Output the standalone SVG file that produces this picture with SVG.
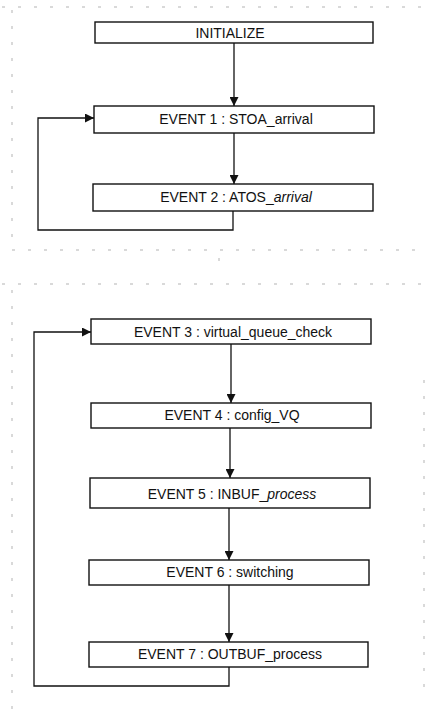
<svg xmlns="http://www.w3.org/2000/svg" width="426" height="718" viewBox="0 0 426 718">
<style>
.box{fill:#fff;stroke:#111;stroke-width:1.4}
.lbl{font-family:"Liberation Sans",Arial,sans-serif;font-size:14px;fill:#111;text-anchor:middle}
.edge{fill:none;stroke:#111;stroke-width:1.3}
.frame{fill:none;stroke:#aaa;stroke-width:0.9;stroke-dasharray:3 13}
</style>
<defs>
<marker id="ah" viewBox="0 0 10 10" refX="10" refY="5" markerWidth="9" markerHeight="9" orient="auto" markerUnits="userSpaceOnUse">
<path d="M0,0 L10,5 L0,10 Z" fill="#111"/>
</marker>
</defs>
<g id="frames">
<path class="frame" d="M2,7 H426"/>
<path class="frame" d="M12,10 V245"/>
<path class="frame" d="M12,250 H426"/>
<path class="frame" d="M219,258 V274"/>
<path class="frame" d="M2,284 H426"/>
<path class="frame" d="M12,290 V712"/>
<path class="frame" d="M424,380 V700"/>
</g>
<g id="connectors">
<path class="edge" d="M234,43 V106" marker-end="url(#ah)"/>
<path class="edge" d="M234,133 V184" marker-end="url(#ah)"/>
<path class="edge" d="M233,211 V230 H38 V118 H94" marker-end="url(#ah)"/>
<path class="edge" d="M231,344 V403" marker-end="url(#ah)"/>
<path class="edge" d="M230,428 V478" marker-end="url(#ah)"/>
<path class="edge" d="M229,508 V560" marker-end="url(#ah)"/>
<path class="edge" d="M229,585 V642" marker-end="url(#ah)"/>
<path class="edge" d="M229,667 V686 H34 V332 H91" marker-end="url(#ah)"/>
</g>
<g id="initialize">
<rect class="box" x="95" y="22" width="278" height="21"/>
<text class="lbl" x="230" y="38">INITIALIZE</text>
</g>
<g id="event1">
<rect class="box" x="94" y="106" width="280" height="27"/>
<text class="lbl" x="236" y="124">EVENT 1 : STOA_arrival</text>
</g>
<g id="event2">
<rect class="box" x="93" y="184" width="280" height="27"/>
<text class="lbl" x="236" y="202">EVENT 2 : ATOS_<tspan font-style="italic">arrival</tspan></text>
</g>
<g id="event3">
<rect class="box" x="91" y="319" width="280" height="25"/>
<text class="lbl" x="233" y="337">EVENT 3 : virtual_queue_check</text>
</g>
<g id="event4">
<rect class="box" x="91" y="403" width="280" height="25"/>
<text class="lbl" x="232" y="420">EVENT 4 : config_VQ</text>
</g>
<g id="event5">
<rect class="box" x="90" y="478" width="280" height="30"/>
<text class="lbl" x="232" y="499">EVENT 5 : INBUF_<tspan font-style="italic">process</tspan></text>
</g>
<g id="event6">
<rect class="box" x="89" y="560" width="280" height="25"/>
<text class="lbl" x="230" y="577">EVENT 6 : switching</text>
</g>
<g id="event7">
<rect class="box" x="89" y="642" width="279" height="25"/>
<text class="lbl" x="230" y="659">EVENT 7 : OUTBUF_process</text>
</g>
</svg>
